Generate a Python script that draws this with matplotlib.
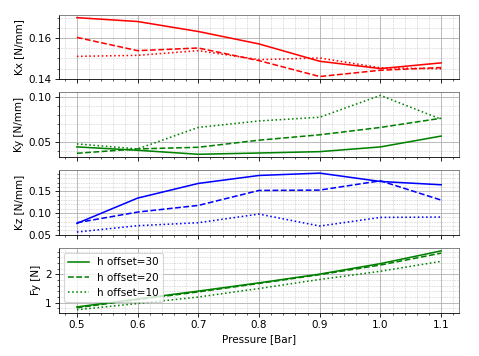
import matplotlib
matplotlib.use("Agg")
import matplotlib.pyplot as plt
from matplotlib.ticker import AutoMinorLocator, MultipleLocator

pressure = [0.5, 0.6, 0.7, 0.8, 0.9, 1.0, 1.1]
labels = ["h offset=30", "h offset=20", "h offset=10"]
styles = ["-", "--", ":"]

kx_30 = [0.1700, 0.1681, 0.1632, 0.1571, 0.1486, 0.1450, 0.1478]
kx_20 = [0.1603, 0.1538, 0.1551, 0.1489, 0.1411, 0.1442, 0.1455]
kx_10 = [0.1510, 0.1515, 0.1538, 0.1494, 0.1502, 0.1454, 0.1449]

ky_30 = [0.0448, 0.0411, 0.0367, 0.0381, 0.0396, 0.0448, 0.0567]
ky_20 = [0.0378, 0.0426, 0.0444, 0.0522, 0.0581, 0.0662, 0.0763]
ky_10 = [0.0481, 0.0426, 0.0662, 0.0733, 0.0774, 0.1014, 0.0752]

kz_30 = [0.0761, 0.1346, 0.1685, 0.1869, 0.1923, 0.1730, 0.1654]
kz_20 = [0.0777, 0.1023, 0.1177, 0.1523, 0.1531, 0.1746, 0.1300]
kz_10 = [0.0562, 0.0708, 0.0777, 0.0977, 0.0700, 0.0900, 0.0908]

fy_30 = [0.85, 1.13, 1.41, 1.70, 2.01, 2.38, 2.83]
fy_20 = [0.82, 1.11, 1.38, 1.68, 1.99, 2.33, 2.75]
fy_10 = [0.75, 0.97, 1.20, 1.50, 1.82, 2.11, 2.46]

panels = [
    ("Kx [N/mm]", "r", [kx_30, kx_20, kx_10], 0.02),
    ("Ky [N/mm]", "g", [ky_30, ky_20, ky_10], 0.05),
    ("Kz [N/mm]", "b", [kz_30, kz_20, kz_10], 0.05),
    ("Fy [N]", "g", [fy_30, fy_20, fy_10], 1.0),
]

fig, axes = plt.subplots(4, 1, sharex=True, figsize=(479 / 75, 356 / 75), dpi=75)
fig.subplots_adjust(left=0.1225, right=0.959, top=0.9587, bottom=0.1216, hspace=0.2)

for ax, (ylabel, color, series, step) in zip(axes, panels):
    for vals, ls, lab in zip(series, styles, labels):
        ax.plot(pressure, vals, color=color, linestyle=ls, label=lab)
    ax.set_ylabel(ylabel)
    ax.yaxis.set_major_locator(MultipleLocator(step))
    ax.xaxis.set_minor_locator(AutoMinorLocator())
    ax.yaxis.set_minor_locator(AutoMinorLocator())
    ax.grid(which="major", color="#b0b0b0", linewidth=0.8)
    ax.grid(which="minor", color="#b0b0b0", linestyle=":", linewidth=0.6)
    ax.spines["top"].set_color("#707070")
    ax.spines["right"].set_color("#707070")

axes[3].legend(loc="upper left")
axes[3].set_xlabel("Pressure [Bar]")

fig.savefig("out.png", dpi=75)
